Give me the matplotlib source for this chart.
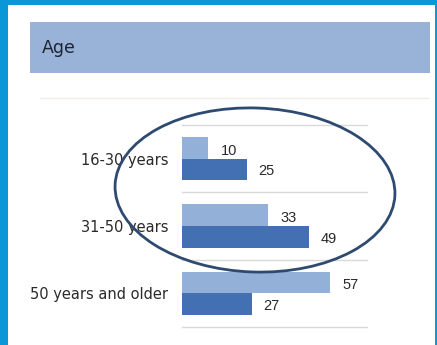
import matplotlib.pyplot as plt
from matplotlib.patches import Rectangle, Ellipse

plt.rcParams['font.family'] = ['Liberation Sans', 'DejaVu Sans']

W, H = 437, 345

categories = ["16-30 years", "31-50 years", "50 years and older"]
series_a = [10, 33, 57]   # lighter bars (top of each pair)
series_b = [25, 49, 27]   # darker bars (bottom of each pair)

LIGHT = "#93b0d8"
DARK = "#4270b3"
BAND = "#98b3d7"
FRAME = "#0a97d8"
TEXT = "#2a2a2a"


def px_box(x0, y0, x1, y1):
    # pixel rectangle (top-left origin) -> figure fraction [l, b, w, h]
    return [x0 / W, 1 - y1 / H, (x1 - x0) / W, (y1 - y0) / H]


fig = plt.figure(figsize=(W / 100, H / 100), dpi=100)
fig.patch.set_facecolor(FRAME)

# background layer in pixel units
bg = fig.add_axes([0, 0, 1, 1])
bg.set_xlim(0, W)
bg.set_ylim(H, 0)
bg.axis("off")
bg.add_patch(Rectangle((8, 5), 427, 345, facecolor="white", edgecolor="none"))
bg.add_patch(Rectangle((30, 22), 400, 51, facecolor=BAND, edgecolor="none"))
bg.text(42, 48, "Age", fontsize=12.5, family="DejaVu Sans", color="#1c2534",
        va="center", ha="left")
bg.plot([40, 428], [98, 98], color="#f4ece9", lw=1)

# bar chart
ax = fig.add_axes(px_box(182, 125, 367, 327))
ax.patch.set_alpha(0)
scale = (367 - 182) / 2.6
ax.set_xlim(0, scale)
ax.set_ylim(2.5, -0.5)
h = 0.32
ypos = list(range(len(categories)))
ax.barh([y - h / 2 for y in ypos], series_a, height=h, color=LIGHT)
ax.barh([y + h / 2 for y in ypos], series_b, height=h, color=DARK)
for y, a, b in zip(ypos, series_a, series_b):
    ax.text(a + 4.8, y - h / 2 + 0.04, str(a), fontsize=10.5, color=TEXT, va="center")
    ax.text(b + 4.2, y + h / 2 + 0.03, str(b), fontsize=10.5, color=TEXT, va="center")
for g in [-0.5, 0.5, 1.5, 2.5]:
    ax.axhline(g, color="#d9d9d9", lw=1, clip_on=False)
ax.set_yticks(ypos)
ax.set_yticklabels(categories, fontsize=10.5, family="DejaVu Sans", color=TEXT)
ax.tick_params(axis="y", length=0, pad=10)
ax.set_xticks([])
for s in ax.spines.values():
    s.set_visible(False)

# highlight ring drawn over the top two groups
ov = fig.add_axes([0, 0, 1, 1], zorder=5)
ov.set_xlim(0, W)
ov.set_ylim(H, 0)
ov.axis("off")
ov.patch.set_alpha(0)
ov.add_patch(Ellipse((255, 190), 280, 164, angle=2, fill=False,
                     edgecolor="#2e4a70", lw=2))

fig.savefig("out.png", dpi=100, facecolor=fig.get_facecolor())
